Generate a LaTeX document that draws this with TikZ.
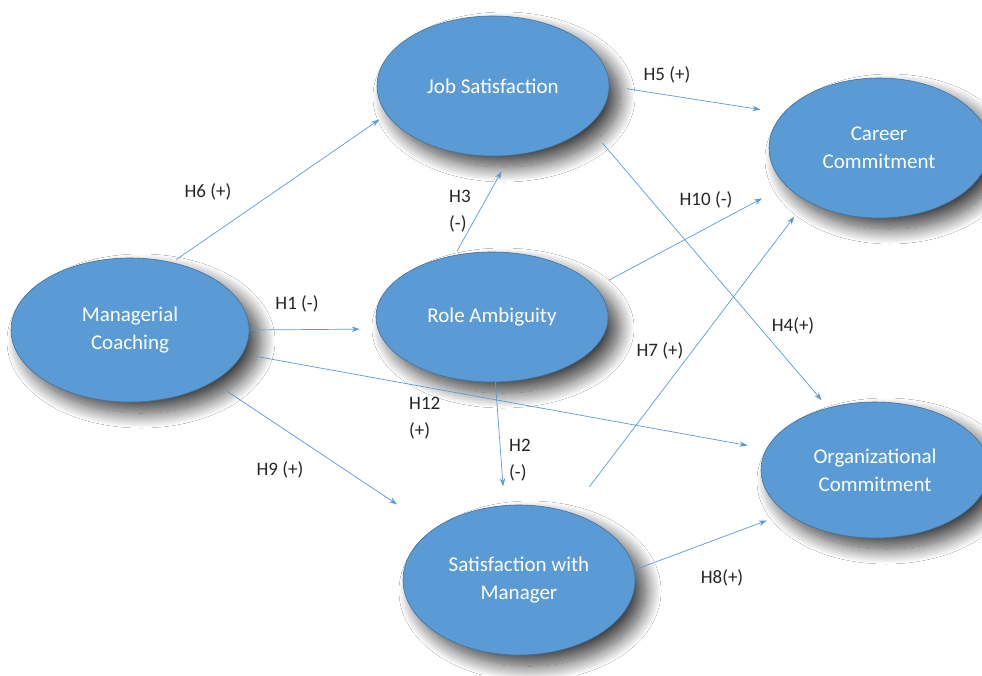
\documentclass[tikz,border=0pt]{standalone}
\usepackage{fontspec}
\setmainfont{Carlito}
\usetikzlibrary{shapes.geometric,arrows.meta,shadows.blur}
\definecolor{ellfill}{RGB}{91,155,213}
\definecolor{elldraw}{RGB}{65,113,156}
\definecolor{arrowcol}{RGB}{91,155,213}
\tikzset{
  construct/.style={ellipse, draw=elldraw, line width=0.6pt, fill=ellfill, text=white,
    inner sep=0pt, align=center, font=\fontsize{21}{28}\selectfont,
    blur shadow={shadow xshift=11pt, shadow yshift=-11pt, shadow blur radius=15pt,
      shadow blur steps=20, shadow opacity=75}},
  link/.style={draw=arrowcol, line width=0.7pt, -{Stealth[length=8pt,width=5.5pt]}},
  hyp/.style={inner sep=0pt, text=black!85, font=\fontsize{19}{27}\selectfont},
  hypl/.style={hyp, align=left, anchor=west}
}
\begin{document}
\begin{tikzpicture}[x=1pt,y=-1pt]
\clip (0,0) rectangle (982,675);
\fill[white] (0,0) rectangle (982,675);
% constructs
\node[construct, minimum width=232pt, minimum height=140pt] (js) at (493,86) {Job Satisfaction};
\node[construct, minimum width=220pt, minimum height=140pt] (cc) at (879,148) {Career\\Commitment};
\node[construct, minimum width=238pt, minimum height=144pt] (mc) at (130,330) {Managerial\\Coaching};
\node[construct, minimum width=232pt, minimum height=130pt] (ra) at (492,317) {Role Ambiguity};
\node[construct, minimum width=228pt, minimum height=136pt] (oc) at (875,470) {Organizational\\Commitment};
\node[construct, minimum width=232pt, minimum height=150pt] (sm) at (519,580) {Satisfaction with\\Manager};
% connectors
\draw[link, shorten <=5pt, shorten >=9pt] (mc.58) -- (js.195);
\draw[link, shorten >=18pt] (mc.0) -- (ra.186);
\draw[link, shorten <=13pt, shorten >=19pt] (mc.348) -- (oc.169);
\draw[link, shorten <=17pt, shorten >=44pt] (mc.328) -- (sm.149);
\draw[link, shorten <=5pt, shorten >=18pt] (ra.121) -- (js.284);
\draw[link, shorten >=19pt] (ra.273) -- (sm.101);
\draw[link, shorten <=18pt, shorten >=23pt] (js.0) -- (cc.160);
\draw[link, shorten <=15pt, shorten >=27pt] (ra.16) -- (cc.202);
\draw[link, shorten <=22pt, shorten >=10pt] (js.337) -- (oc.127);
\draw[link, shorten <=32pt, shorten >=20pt] (sm.53) -- (cc.216);
\draw[link, shorten >=21pt] (sm.5) -- (oc.206);
% labels
\node[hyp] (l5) at (667,75) {H5 (+)};
\node[hyp] (l10) at (706,200) {H10 (-)};
\node[hyp] (l6) at (208,192) {H6 (+)};
\node[hyp] (l1) at (297,304) {H1 (-)};
\node[hyp] (l9) at (280,470) {H9 (+)};
\node[hyp] (l7) at (660,351) {H7 (+)};
\node[hyp] (l4) at (793,326) {H4(+)};
\node[hyp] (l8) at (722,578) {H8(+)};
\node[hypl] (l3) at (449,211) {H3\\(-)};
\node[hypl] (l12) at (409,418) {H12\\(+)};
\node[hypl] (l2) at (509,460) {H2\\(-)};
\end{tikzpicture}
\end{document}
